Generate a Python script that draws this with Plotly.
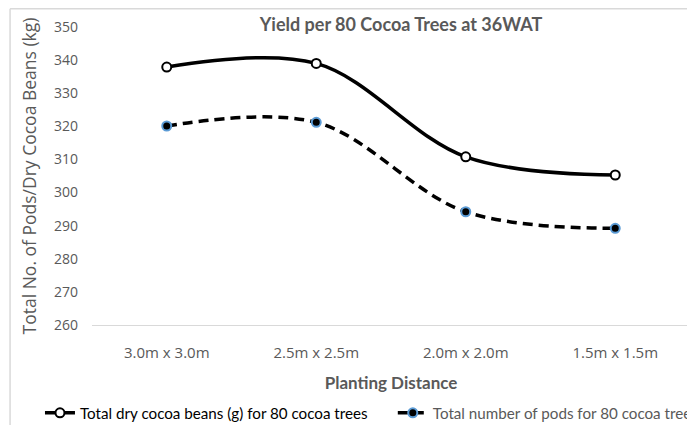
import plotly.graph_objects as go

categories = ["3.0m x 3.0m", "2.5m x 2.5m", "2.0m x 2.0m", "1.5m x 1.5m"]
dry_beans = [337.9, 339.0, 310.8, 305.3]
pods = [320.1, 321.2, 294.2, 289.2]
series_names = ["Total dry cocoa beans (g) for 80 cocoa trees",
                "Total number of pods for 80 cocoa trees"]
y_ticks = list(range(260, 351, 10))

FONT = "Lato, sans-serif"
OPEN = "Open Sans, sans-serif"
GRAY = "#595959"

fig = go.Figure()
fig.add_trace(go.Scatter(
    x=categories, y=dry_beans, name=series_names[0], mode="lines+markers", legend="legend",
    line=dict(color="black", width=3.5, shape="spline", smoothing=1.0),
    marker=dict(symbol="circle", size=9, color="white", line=dict(color="black", width=2)),
))
fig.add_trace(go.Scatter(
    x=categories, y=pods, name=series_names[1], mode="lines+markers", legend="legend2",
    line=dict(color="black", width=3.5, shape="spline", smoothing=1.0, dash="10px,6px"),
    marker=dict(symbol="circle", size=9, color="black", line=dict(color="#5B9BD5", width=2)),
))

fig.update_layout(
    width=687, height=417,
    margin=dict(l=84, r=5, t=19, b=100, autoexpand=False),
    paper_bgcolor="white", plot_bgcolor="white",
    font=dict(family=FONT, size=15, color=GRAY),
    title=dict(text="<b>Yield per 80 Cocoa Trees at 36WAT</b>", x=0.572, xanchor="center",
               y=0.959, yanchor="middle", font=dict(size=18, color=GRAY)),
    showlegend=True,
    legend=dict(orientation="h", x=-0.087, xanchor="left", y=-0.295, yanchor="middle",
                font=dict(size=15.2, color="black"), itemwidth=30, bgcolor="rgba(0,0,0,0)"),
    legend2=dict(orientation="h", x=0.503, xanchor="left", y=-0.295, yanchor="middle",
                 font=dict(size=15.2, color=GRAY), itemwidth=30, bgcolor="rgba(0,0,0,0)"),
    xaxis=dict(range=[-0.5, 3.5], showgrid=False, showline=True, linecolor="#D9D9D9", linewidth=1,
               ticks="", ticklabelstandoff=14, tickfont=dict(family=OPEN, size=15, color=GRAY),
               automargin=False,
               title=dict(text="<b>Planting Distance</b>", font=dict(size=17, color=GRAY), standoff=16)),
    yaxis=dict(range=[260, 350], tickvals=y_ticks, showgrid=False, showline=False, zeroline=False,
               ticks="", ticklabelstandoff=13,
               tickfont=dict(family=OPEN, size=14, color=GRAY), automargin=False,
               title=dict(text="Total No. of Pods/Dry Cocoa Beans (kg)",
                          font=dict(family=OPEN, size=17.5, color=GRAY), standoff=12)),
)
fig.add_shape(type="line", xref="paper", yref="paper", x0=-0.137, x1=1.02, y0=1.061, y1=1.061,
              line=dict(color="#D9D9D9", width=1.5))
fig.add_shape(type="line", xref="paper", yref="paper", x0=-0.137, x1=-0.137, y0=1.061, y1=-0.34,
              line=dict(color="#D9D9D9", width=1.5))

fig.write_html("out.html")
